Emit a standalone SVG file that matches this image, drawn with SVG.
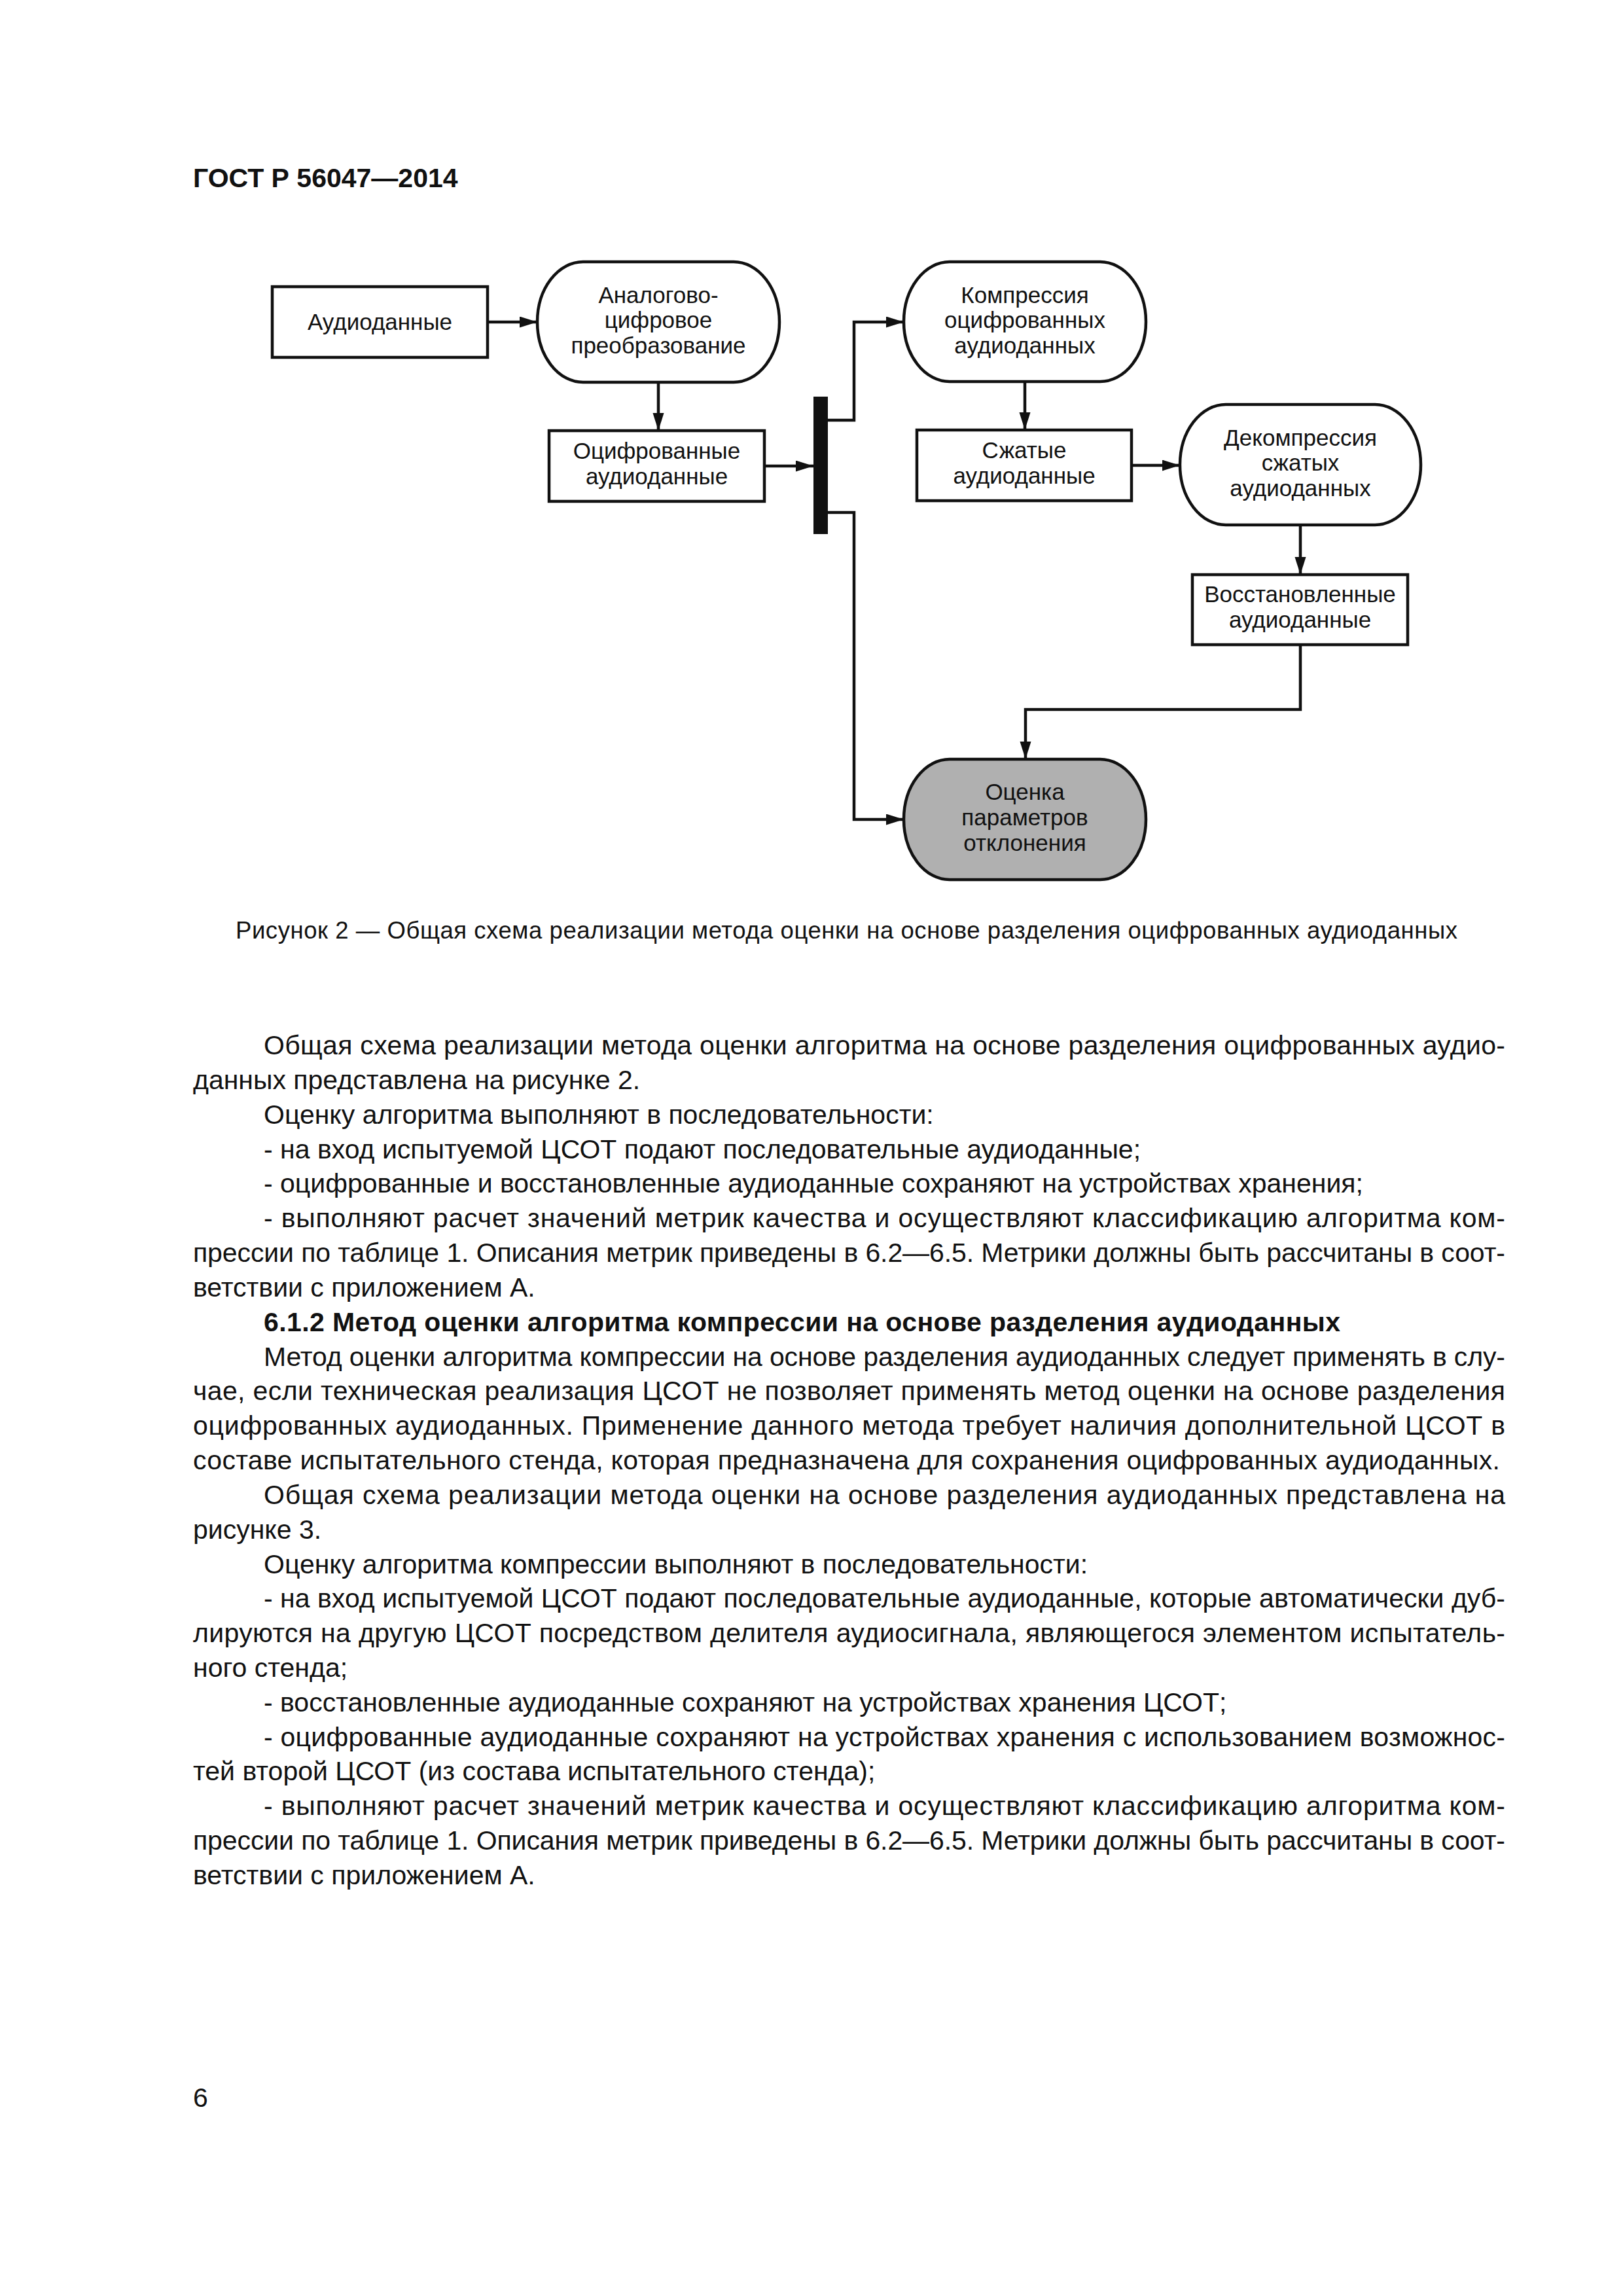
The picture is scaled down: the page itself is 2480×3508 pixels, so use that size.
<svg xmlns="http://www.w3.org/2000/svg" width="2480" height="3508" viewBox="0 0 2480 3508">
<defs>
<style>
.t{font-family:"Liberation Sans",Arial,sans-serif;fill:#111}
.hdr{font-size:41px;font-weight:bold}
.nt{font-size:35px;text-anchor:middle}
.cap{font-size:36.5px}
.b{font-size:41px}
.bb{font-size:41px;font-weight:bold}
.box{fill:#fff;stroke:#111;stroke-width:4.5}
.term{fill:#fff;stroke:#111;stroke-width:4.5}
.grey{fill:#b0b0b0}
.con{fill:none;stroke:#111;stroke-width:4.5;stroke-linejoin:miter}
.arr{marker-end:url(#ah)}
</style>
<marker id="ah" markerUnits="userSpaceOnUse" markerWidth="28" markerHeight="18" refX="27" refY="8.5" orient="auto" viewBox="0 0 28 18">
<path d="M0,0 L27,8.5 L0,17 z" fill="#111"/>
</marker>
</defs>
<rect width="2480" height="3508" fill="#fff"/>

<text class="t hdr" x="295" y="286">ГОСТ Р 56047—2014</text>

<g id="connectors">
<path class="con arr" d="M745,492 H821"/>
<path class="con arr" d="M1006,584 V658"/>
<path class="con arr" d="M1168,712 H1243"/>
<path class="con arr" d="M1265,642 H1305 V492 H1381"/>
<path class="con arr" d="M1265,783 H1305 V1252 H1381"/>
<path class="con arr" d="M1566,583 V657"/>
<path class="con arr" d="M1729,711 H1803"/>
<path class="con arr" d="M1987,802 V878"/>
<path class="con arr" d="M1987,985 V1084 H1567 V1160"/>
</g>

<g id="splitter">
<rect x="1243" y="606" width="22" height="210" fill="#111"/>
</g>

<g id="node-audio">
<rect class="box" x="416" y="438" width="329" height="108"/>
<text class="t nt" x="580.5" y="504">Аудиоданные</text>
</g>

<g id="node-adc">
<rect class="term" x="821" y="400" width="370" height="184" rx="70" ry="92"/>
<text class="t nt" x="1006" y="463">Аналогово-</text>
<text class="t nt" x="1006" y="501">цифровое</text>
<text class="t nt" x="1006" y="540">преобразование</text>
</g>

<g id="node-digitized">
<rect class="box" x="839" y="658" width="329" height="108"/>
<text class="t nt" x="1003.5" y="701">Оцифрованные</text>
<text class="t nt" x="1003.5" y="740">аудиоданные</text>
</g>

<g id="node-compress">
<rect class="term" x="1381" y="400" width="370" height="183" rx="70" ry="91.5"/>
<text class="t nt" x="1566" y="463">Компрессия</text>
<text class="t nt" x="1566" y="501">оцифрованных</text>
<text class="t nt" x="1566" y="540">аудиоданных</text>
</g>

<g id="node-compressed">
<rect class="box" x="1401" y="657" width="328" height="108"/>
<text class="t nt" x="1565" y="700">Сжатые</text>
<text class="t nt" x="1565" y="739">аудиоданные</text>
</g>

<g id="node-decompress">
<rect class="term" x="1803" y="618" width="368" height="184" rx="70" ry="92"/>
<text class="t nt" x="1987" y="681">Декомпрессия</text>
<text class="t nt" x="1987" y="719">сжатых</text>
<text class="t nt" x="1987" y="758">аудиоданных</text>
</g>

<g id="node-restored">
<rect class="box" x="1822" y="878" width="329" height="107"/>
<text class="t nt" x="1986.5" y="920">Восстановленные</text>
<text class="t nt" x="1986.5" y="959">аудиоданные</text>
</g>

<g id="node-evaluate">
<rect class="term grey" x="1381" y="1160" width="370" height="184" rx="70" ry="92"/>
<text class="t nt" x="1566" y="1222">Оценка</text>
<text class="t nt" x="1566" y="1261">параметров</text>
<text class="t nt" x="1566" y="1300">отклонения</text>
</g>

<text class="t cap" x="360" y="1434" textLength="1867">Рисунок 2 — Общая схема реализации метода оценки на основе разделения оцифрованных аудиоданных</text>

<g id="body">
<text class="t b" x="403" y="1611" textLength="1897">Общая схема реализации метода оценки алгоритма на основе разделения оцифрованных аудио-</text>
<text class="t b" x="295" y="1663.8">данных представлена на рисунке 2.</text>
<text class="t b" x="403" y="1716.7">Оценку алгоритма выполняют в последовательности:</text>
<text class="t b" x="403" y="1769.5">- на вход испытуемой ЦСОТ подают последовательные аудиоданные;</text>
<text class="t b" x="403" y="1822.3">- оцифрованные и восстановленные аудиоданные сохраняют на устройствах хранения;</text>
<text class="t b" x="403" y="1875.2" textLength="1897">- выполняют расчет значений метрик качества и осуществляют классификацию алгоритма ком-</text>
<text class="t b" x="295" y="1928" textLength="2005">прессии по таблице 1. Описания метрик приведены в 6.2—6.5. Метрики должны быть рассчитаны в соот-</text>
<text class="t b" x="295" y="1980.8">ветствии с приложением А.</text>
<text class="t bb" x="403" y="2033.6" textLength="1645">6.1.2  Метод оценки алгоритма компрессии на основе разделения аудиоданных</text>
<text class="t b" x="403" y="2086.5" textLength="1897">Метод оценки алгоритма компрессии на основе разделения аудиоданных следует применять в слу-</text>
<text class="t b" x="295" y="2139.3" textLength="2005">чае, если техническая реализация ЦСОТ не позволяет применять метод оценки на основе разделения</text>
<text class="t b" x="295" y="2192.1" textLength="2005">оцифрованных аудиоданных. Применение данного метода требует наличия дополнительной ЦСОТ в</text>
<text class="t b" x="295" y="2245" textLength="1997">составе испытательного стенда, которая предназначена для сохранения оцифрованных аудиоданных.</text>
<text class="t b" x="403" y="2297.8" textLength="1897">Общая схема реализации метода оценки на основе разделения аудиоданных представлена на</text>
<text class="t b" x="295" y="2350.6">рисунке 3.</text>
<text class="t b" x="403" y="2403.5">Оценку алгоритма компрессии выполняют в последовательности:</text>
<text class="t b" x="403" y="2456.3" textLength="1897">- на вход испытуемой ЦСОТ подают последовательные аудиоданные, которые автоматически дуб-</text>
<text class="t b" x="295" y="2509.1" textLength="2005">лируются на другую ЦСОТ посредством делителя аудиосигнала, являющегося элементом испытатель-</text>
<text class="t b" x="295" y="2561.9">ного стенда;</text>
<text class="t b" x="403" y="2614.8">- восстановленные аудиоданные сохраняют на устройствах хранения ЦСОТ;</text>
<text class="t b" x="403" y="2667.6" textLength="1897">- оцифрованные аудиоданные сохраняют на устройствах хранения с использованием возможнос-</text>
<text class="t b" x="295" y="2720.4">тей второй ЦСОТ (из состава испытательного стенда);</text>
<text class="t b" x="403" y="2773.3" textLength="1897">- выполняют расчет значений метрик качества и осуществляют классификацию алгоритма ком-</text>
<text class="t b" x="295" y="2826.1" textLength="2005">прессии по таблице 1. Описания метрик приведены в 6.2—6.5. Метрики должны быть рассчитаны в соот-</text>
<text class="t b" x="295" y="2878.9">ветствии с приложением А.</text>
</g>

<text class="t b" x="295" y="3219">6</text>
</svg>
